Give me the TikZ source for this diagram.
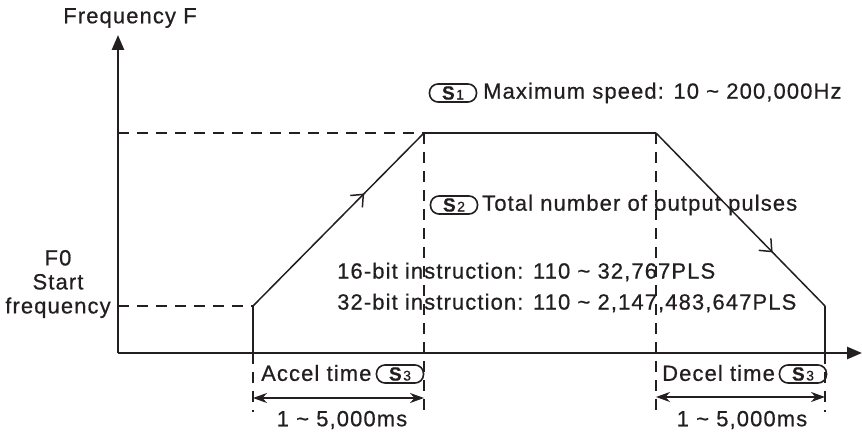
\documentclass[tikz,border=0pt]{standalone}
\usepackage{fontspec}
\setmainfont{Liberation Sans}[LetterSpace=5,RawFeature={embolden=0.6}]
\usetikzlibrary{arrows.meta,decorations.markings}
\definecolor{ink}{HTML}{231F20}
\newcommand{\sbadge}[1]{{\fontsize{19}{19}\selectfont\bfseries S\hspace{1.5pt}\fontsize{14}{14}\selectfont\mdseries #1}}
\begin{document}
\begin{tikzpicture}[x=1pt,y=-1pt,
  txt/.style={inner sep=0pt,text=ink,font=\fontsize{22}{26}\selectfont},
  axis/.style={line width=2.6pt,draw=ink,-{Triangle[length=15pt,width=12pt]}},
  trap/.style={line width=2.3pt,draw=ink,line join=miter},
  slope/.style={line width=1.5pt,draw=ink},
  guide/.style={line width=2.4pt,draw=ink,dash pattern=on 11pt off 8pt},
  span/.style={line width=1.8pt,draw=ink,{Stealth[length=14pt,width=10pt]}-{Stealth[length=14pt,width=10pt]}},
  badge/.style={draw=ink,line width=1.6pt,rounded corners=8.5pt,minimum width=47pt,minimum height=18pt,inner sep=0pt,text=ink},
  midarrow/.style={postaction={decorate},decoration={markings,mark=at position #1 with {\arrow{Straight Barb[length=10pt,width=17pt,line width=1.5pt]}}}}
]
\useasboundingbox (0,0) rectangle (862,435);
% axes
\coordinate (O) at (118,353);
\coordinate (ytop) at (118,35);
\coordinate (xend) at (862,353);
\draw[axis] (O) -- (ytop);
\draw[axis] (O) -- (xend);
% trapezoid points
\coordinate (b1) at (253,353);
\coordinate (p1) at (253,306);
\coordinate (p2) at (424,133);
\coordinate (p3) at (656,133);
\coordinate (p4) at (825,306);
\coordinate (b4) at (825,353);
% guides
\coordinate (gF0) at (118,306);
\coordinate (gMax) at (118,133);
\coordinate (d1) at (253,412);
\coordinate (d2) at (424,412);
\coordinate (d3) at (656,412);
\coordinate (d4) at (825,412);
\draw[guide] (gMax) -- (p2);
\draw[guide] (gF0) -- (p1);
\draw[guide] (b1) -- (d1);
\draw[guide] (p2) -- (d2);
\draw[guide] (p3) -- (d3);
\draw[guide] (b4) -- (d4);
% trapezoid
\draw[trap] (b1) -- (p1);
\draw[slope,midarrow=0.65] (p1) -- (p2);
\draw[trap] (p2) -- (p3);
\draw[slope,midarrow=0.69] (p3) -- (p4);
\draw[trap] (p4) -- (b4);
% spans
\coordinate (a1) at (253,398);
\coordinate (a2) at (424,398);
\coordinate (a3) at (656,397);
\coordinate (a4) at (825,397);
\draw[span] (a1) -- (a2);
\draw[span] (a3) -- (a4);
% labels
\node[txt] (freq) at (130,18) {Frequency F};
\node[txt,align=center] (f0) at (58,284) {F0\\[-2pt]Start\\[-2pt]frequency};
\node[badge] (s1) at (453,93) {\sbadge{1}};
\node[txt,anchor=west] (maxs) at (483,93) {Maximum speed: 10 \char`~{} 200,000Hz};
\node[badge] (s2) at (454,205) {\sbadge{2}};
\node[txt,anchor=west] (tot) at (482,205) {Total number of output pulses};
\node[txt,anchor=west] (b16) at (337,272) {16-bit instruction: 110 \char`~{} 32,767PLS};
\node[txt,anchor=west] (b32) at (337,303) {32-bit instruction: 110 \char`~{} 2,147,483,647PLS};
\node[txt,anchor=west] (acc) at (261,373) {Accel time};
\node[badge] (s3a) at (400,374) {\sbadge{3}};
\node[txt,anchor=west] (dec) at (662,373) {Decel time};
\node[badge] (s3b) at (803,374) {\sbadge{3}};
\node[txt] (ms1) at (342,420) {1 \char`~{} 5,000ms};
\node[txt] (ms2) at (742,420) {1 \char`~{} 5,000ms};
\end{tikzpicture}
\end{document}
